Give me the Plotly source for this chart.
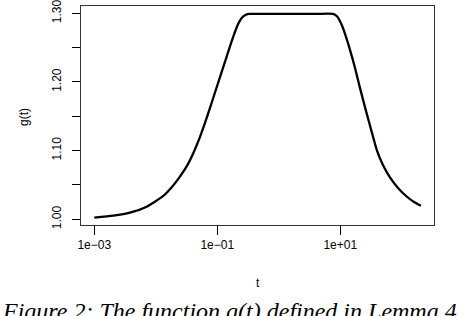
import plotly.graph_objects as go

# data
t_values = [0.001, 0.00204, 0.0038, 0.00711, 0.01324, 0.01832, 0.0247, 0.0321,
            0.0407, 0.0524, 0.0681, 0.0861, 0.1107, 0.1422, 0.182, 0.2173,
            0.2495, 0.2818, 0.327, 0.631, 1.585, 3.98, 7.59, 8.83, 10.54, 12.39,
            14.39, 17.34, 20.89, 26.18, 32.43, 39.54, 49.43, 64.27, 86.9, 120.2,
            158.1, 205.1]
g_values = [1.0023, 1.0052, 1.0096, 1.0184, 1.034, 1.047, 1.0621, 1.0777,
            1.0962, 1.120, 1.149, 1.177, 1.207, 1.237, 1.266, 1.284,
            1.293, 1.2972, 1.299, 1.299, 1.299, 1.299, 1.299, 1.2956, 1.2832,
            1.2657, 1.2468, 1.2206, 1.1914, 1.1579, 1.1273, 1.1000, 1.0790,
            1.0610, 1.0456, 1.0332, 1.0252, 1.0198]

x_tick_vals = [1e-3, 1e-1, 1e1]
x_tick_text = ["1e\u221203", "1e\u221201", "1e+01"]
y_tick_vals = [1.00, 1.05, 1.10, 1.15, 1.20, 1.25, 1.30]
y_tick_text = ["1.00", "", "1.10", "", "1.20", "", "1.30"]

caption = "<i>Figure 2: The function g(t) defined in Lemma 4</i>"

fig = go.Figure()
fig.add_trace(go.Scatter(
    x=t_values, y=g_values, mode="lines",
    line=dict(color="black", width=2.3, shape="spline", smoothing=0.6),
    hoverinfo="skip", showlegend=False,
))

W, H = 470, 316
L, R, T, B = 81, 36, 6, 91
pw, ph = W - L - R, H - T - B

def px(x):
    return (x - L) / pw

def py(y):
    return (H - B - y) / ph

tick_font = dict(family="Liberation Sans, Arial, sans-serif", size=12, color="black")

fig.update_layout(
    width=W, height=H,
    margin=dict(l=L, r=R, t=T, b=B, pad=0, autoexpand=False),
    paper_bgcolor="white", plot_bgcolor="white",
    xaxis=dict(
        type="log", range=[-3.216, 2.524], automargin=False,
        tickmode="array", tickvals=x_tick_vals, ticktext=x_tick_text,
        ticks="outside", ticklen=9, tickwidth=1, tickcolor="black",
        showline=True, linecolor="#333", linewidth=1, mirror=True,
        showgrid=False, zeroline=False, tickfont=tick_font,
        ticklabeloverflow="allow",
    ),
    yaxis=dict(
        range=[0.9917, 1.3106], automargin=False,
        tickmode="array", tickvals=y_tick_vals, ticktext=y_tick_text,
        ticks="outside", ticklen=8, tickwidth=1, tickcolor="black",
        tickangle=-90, ticklabelstandoff=6, ticklabeloverflow="allow",
        showline=True, linecolor="#333", linewidth=1, mirror=True,
        showgrid=False, zeroline=False, tickfont=tick_font,
    ),
    annotations=[
        dict(text="t", xref="paper", yref="paper", x=px(258), y=py(283),
             xanchor="center", yanchor="middle", showarrow=False,
             font=dict(family="Liberation Sans, Arial, sans-serif", size=12, color="black")),
        dict(text="g(t)", xref="paper", yref="paper", x=px(24), y=py(117),
             xanchor="center", yanchor="middle", showarrow=False, textangle=-90,
             font=dict(family="Liberation Sans, Arial, sans-serif", size=12, color="black")),
        dict(text=caption, xref="paper", yref="paper", x=px(0), y=py(296),
             xanchor="left", yanchor="top", showarrow=False,
             font=dict(family="Liberation Serif, Times New Roman, serif", size=24, color="black")),
    ],
)

fig.write_html("out.html", config={"displayModeBar": False},
               post_script="document.body.style.margin='0px';")
